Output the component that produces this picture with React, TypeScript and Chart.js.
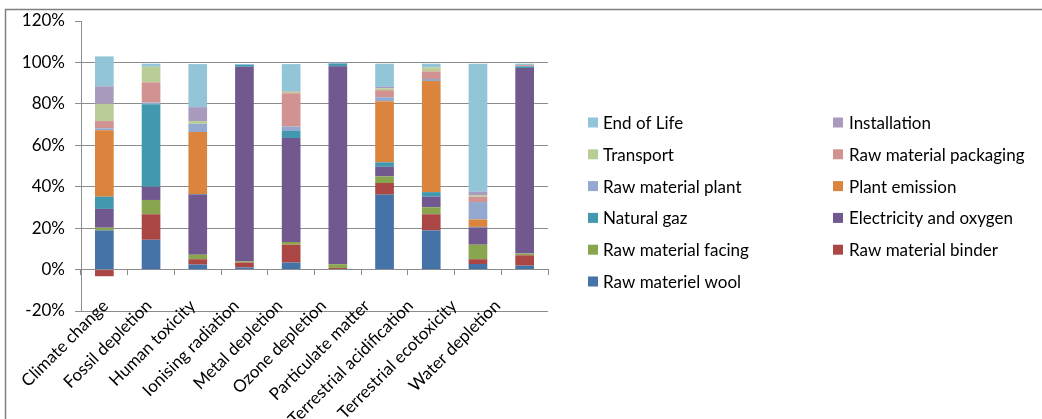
import React, { useEffect, useRef } from "react";
import { Chart, registerables } from "chart.js";

Chart.register(...registerables);

// Impact categories along the x axis
const categories = [
  "Climate change",
  "Fossil depletion",
  "Human toxicity",
  "Ionising radiation",
  "Metal depletion",
  "Ozone depletion",
  "Particulate matter",
  "Terrestrial acidification",
  "Terrestrial ecotoxicity",
  "Water depletion",
];

// Contribution of each life-cycle stage, in % of the category total
const rawMaterielWool = [18.9, 14.4, 2.4, 1.0, 3.4, 0.3, 36.2, 18.9, 2.7, 1.9];
const rawMaterialBinder = [-3.2, 12.3, 2.6, 2.4, 8.6, 0.5, 5.6, 7.8, 2.3, 5.0];
const rawMaterialFacing = [1.3, 6.9, 2.2, 0.6, 1.3, 1.8, 3.2, 3.4, 7.0, 0.8];
const electricityAndOxygen = [9.1, 6.4, 29.0, 93.9, 50.2, 95.5, 4.6, 5.1, 8.3, 89.6];
const naturalGaz = [5.9, 39.8, 0.3, 1.0, 3.4, 1.3, 2.2, 2.2, 0.3, 0.8];
const plantEmission = [32.0, 0, 29.9, 0, 0, 0, 29.5, 53.6, 3.6, 0];
const rawMaterialPlant = [1.0, 0.8, 4.0, 0, 2.1, 0.6, 1.9, 1.0, 8.4, 0];
const rawMaterialPackaging = [3.5, 9.8, 0, 0, 16.1, 0, 3.4, 3.7, 2.6, 0.6];
const transport = [8.3, 7.5, 1.3, 0, 0.8, 0, 0.9, 1.9, 0.6, 0];
const installation = [8.5, 0, 6.7, 0, 0.3, 0, 0.7, 0, 1.8, 0];
const endOfLife = [14.4, 1.5, 20.8, 0.3, 13.0, 0, 11.2, 1.8, 61.8, 0.7];

// Y axis range and tick spacing (percent)
const yMin = -20;
const yMax = 120;
const yStep = 20;

// Stacking order, bottom to top
const seriesNames = [
  "Raw materiel wool",
  "Raw material binder",
  "Raw material facing",
  "Electricity and oxygen",
  "Natural gaz",
  "Plant emission",
  "Raw material plant",
  "Raw material packaging",
  "Transport",
  "Installation",
  "End of Life",
];
const seriesValues = [
  rawMaterielWool,
  rawMaterialBinder,
  rawMaterialFacing,
  electricityAndOxygen,
  naturalGaz,
  plantEmission,
  rawMaterialPlant,
  rawMaterialPackaging,
  transport,
  installation,
  endOfLife,
];
const seriesColors = [
  "#4572A7",
  "#AA4643",
  "#89A54E",
  "#71588F",
  "#4198AF",
  "#DB843D",
  "#93A9CF",
  "#D19392",
  "#B9CD96",
  "#A99BBD",
  "#92C5D7",
];

const FONT = "Lato, 'Noto Sans', sans-serif";
const FONT_SIZE = 17;
const AXIS_GREY = "#8C8C8C";

// Category names, rotated 45°, ending just above the bottom gridline
const categoryLabelPlugin = {
  id: "rotatedCategoryLabels",
  afterDraw(chart: any) {
    const ctx = chart.ctx;
    const xScale = chart.scales.x;
    const bottom = chart.chartArea.bottom;
    const labelStep = 0.933; // labels sit a little tighter than the category slots
    const x0 = xScale.getPixelForValue(0);
    const slot = xScale.getPixelForValue(1) - x0;
    ctx.save();
    ctx.font = `${FONT_SIZE}px ${FONT}`;
    ctx.fillStyle = "#000";
    ctx.textAlign = "right";
    ctx.textBaseline = "middle";
    categories.forEach((name, i) => {
      ctx.save();
      ctx.translate(x0 + 1 + i * slot * labelStep, bottom - 8);
      ctx.rotate(-Math.PI / 4);
      ctx.fillText(name, 0, 0);
      ctx.restore();
    });
    ctx.restore();
  },
};

// Two-column legend listed row by row, top series first
const legendPlugin = {
  id: "twoColumnLegend",
  afterDraw(chart: any) {
    const ctx = chart.ctx;
    const swatchX = [588, 833];
    const textX = [603, 849];
    const firstRowY = 122.5;
    const rowGap = 31.8;
    const box = 10;
    const items = chart.data.datasets.map((d: any, i: number) => i).reverse();
    ctx.save();
    ctx.font = `${FONT_SIZE}px ${FONT}`;
    ctx.textBaseline = "middle";
    ctx.textAlign = "left";
    items.forEach((dsIndex: number, k: number) => {
      const ds = chart.data.datasets[dsIndex];
      const col = k % 2;
      const row = Math.floor(k / 2);
      const cy = firstRowY + row * rowGap;
      ctx.fillStyle = ds.backgroundColor;
      ctx.fillRect(swatchX[col], cy - box / 2, box, box);
      ctx.fillStyle = "#000";
      ctx.fillText(ds.label, textX[col], cy + 1);
    });
    ctx.restore();
  },
};

// Outer frame of the chart area (top and left edges)
const framePlugin = {
  id: "chartFrame",
  afterDraw(chart: any) {
    const ctx = chart.ctx;
    ctx.save();
    ctx.strokeStyle = "#7F7F7F";
    ctx.lineWidth = 1.5;
    ctx.beginPath();
    ctx.moveTo(chart.width, 9.5);
    ctx.lineTo(5.5, 9.5);
    ctx.lineTo(5.5, chart.height);
    ctx.stroke();
    ctx.restore();
  },
};

export default function App() {
  const canvasRef = useRef<HTMLCanvasElement | null>(null);

  useEffect(() => {
    document.body.style.margin = "0";
    const canvas = canvasRef.current;
    if (!canvas) return;

    const chart = new Chart(canvas, {
      type: "bar",
      data: {
        labels: categories,
        datasets: seriesNames.map((name, i) => ({
          label: name,
          data: seriesValues[i],
          backgroundColor: seriesColors[i],
          borderWidth: 0,
          categoryPercentage: 1,
          barPercentage: 0.4,
          xAxisID: "x",
        })),
      },
      options: {
        responsive: false,
        animation: false,
        layout: { padding: { top: 21, right: 494, bottom: 0, left: 0 } },
        plugins: {
          legend: { display: false },
          tooltip: { enabled: false },
        },
        scales: {
          x: {
            type: "category",
            stacked: true,
            position: "bottom",
            offset: true,
            grid: { display: false, drawTicks: false },
            border: { display: false },
            ticks: { display: false },
            afterFit(scale: any) {
              scale.height = 108;
            },
          },
          xZero: {
            type: "category",
            display: true,
            labels: categories,
            position: { y: 0 },
            offset: true,
            grid: {
              offset: true,
              drawOnChartArea: false,
              drawTicks: true,
              tickLength: 5,
              color: AXIS_GREY,
            },
            border: { display: true, color: AXIS_GREY, width: 1 },
            ticks: { display: false },
          },
          y: {
            stacked: true,
            min: yMin,
            max: yMax,
            grid: {
              color: (c: any) => (c.tick && c.tick.value === yMax ? "rgba(0,0,0,0)" : AXIS_GREY),
              tickColor: AXIS_GREY,
              tickLength: 6,
            },
            border: { color: AXIS_GREY },
            ticks: {
              stepSize: yStep,
              padding: 10,
              color: "#000",
              font: { family: FONT, size: FONT_SIZE },
              callback: (v: any) => `${v}%`,
            },
            afterFit(scale: any) {
              scale.width = 81;
            },
          },
        },
      },
      plugins: [categoryLabelPlugin, legendPlugin, framePlugin],
    });

    return () => chart.destroy();
  }, []);

  return (
    <div style={{ width: 1042, height: 419, background: "#fff" }}>
      <canvas ref={canvasRef} width={1042} height={419} style={{ display: "block" }} />
    </div>
  );
}
